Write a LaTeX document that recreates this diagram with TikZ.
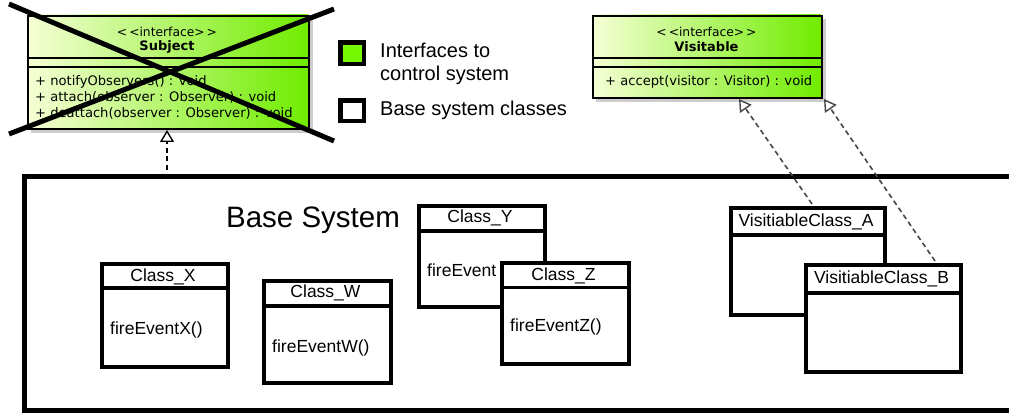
\documentclass[tikz,border=0pt]{standalone}
\usepackage{fontspec}
\setmainfont{Liberation Sans}
\newfontfamily\umlfont{DejaVu Sans}
\usetikzlibrary{arrows.meta}
\definecolor{paleg}{RGB}{246,255,214}
\definecolor{midg}{RGB}{178,252,80}
\definecolor{brightg}{RGB}{112,236,0}
\definecolor{legendg}{RGB}{118,248,0}
\definecolor{shadowg}{RGB}{205,205,205}
\definecolor{linkg}{RGB}{70,70,70}
\tikzset{
  classbox/.style={draw=black, line width=3.6pt, fill=white},
  classsep/.style={draw=black, line width=3.2pt},
  umlframe/.style={draw=black, line width=1.8pt},
  umlsep/.style={draw=black, line width=1.4pt},
  cname/.style={font=\fontsize{17.5}{20}\selectfont, inner sep=0pt},
  cmeth/.style={font=\fontsize{17.5}{20}\selectfont, inner sep=0pt, anchor=west},
  stereo/.style={font=\umlfont\fontsize{12.3}{14}\selectfont, inner sep=0pt},
  iname/.style={font=\umlfont\bfseries\fontsize{13}{15}\selectfont, inner sep=0pt},
  imeth/.style={font=\umlfont\fontsize{13.1}{16}\selectfont, inner sep=0pt, anchor=west},
  legtext/.style={font=\fontsize{20}{24}\selectfont, inner sep=0pt, anchor=west},
  realizes/.style={dashed, dash pattern=on 5pt off 3.5pt, line width=1.6pt,
    -{Triangle[open, width=14pt, length=12pt, line width=1.4pt, fill=white]}},
}
\newcommand{\stereotext}{<\kern2pt<interface>\kern2pt>}
\begin{document}
\begin{tikzpicture}[x=1pt, y=-1pt]
\useasboundingbox (0,0) rectangle (1009,414);
\clip (0,0) rectangle (1009,414);

% ---------- base system frame (runs off to the right) ----------
\node[draw=black, line width=4.4pt, minimum width=1020pt, minimum height=234pt,
      anchor=north west, inner sep=0pt] (base) at (22.2,174.2) {};
\node[font=\fontsize{29.5}{34}\selectfont, inner sep=0pt] (basetitle) at (313,220) {Base System};

% ---------- interface Subject (crossed out) ----------
\fill[shadowg] (31,19) rectangle (313,133);
\shade[left color=paleg, middle color=midg, right color=brightg] (27,15) rectangle (308,128);
\node[umlframe, minimum width=281pt, minimum height=113pt, anchor=north west,
      inner sep=0pt] (subject) at (27,15) {};
\draw[umlsep] (27,58) -- (308,58);
\draw[umlsep] (27,67) -- (308,67);
\node[stereo] (subjst) at (167,32) {\stereotext};
\node[iname] (subjname) at (167,46.5) {Subject};
\node[imeth] (subjm1) at (35,82) {+ notifyObservers() : void};
\node[imeth] (subjm2) at (35,97.5) {+ attach(observer : Observer) : void};
\node[imeth] (subjm3) at (35,113) {+ deattach(observer : Observer) : void};
\coordinate (crossA1) at (9,4);
\coordinate (crossA2) at (334,141);
\coordinate (crossB1) at (9,134);
\coordinate (crossB2) at (334,9);
\draw[line width=5pt] (crossA1) -- (crossA2);
\draw[line width=5pt] (crossB1) -- (crossB2);

% ---------- interface Visitable ----------
\fill[shadowg] (596,19) rectangle (826,102);
\shade[left color=paleg, middle color=midg, right color=brightg] (592,15) rectangle (821,97);
\node[umlframe, minimum width=229pt, minimum height=82pt, anchor=north west,
      inner sep=0pt] (visitable) at (592,15) {};
\draw[umlsep] (592,58) -- (821,58);
\draw[umlsep] (592,67) -- (821,67);
\node[stereo] (visst) at (706.5,32) {\stereotext};
\node[iname] (visname) at (706.5,47) {Visitable};
\node[imeth] (vism1) at (605,81.5) {+ accept(visitor : Visitor) : void};

% ---------- legend ----------
\node[draw=black, line width=4.6pt, fill=legendg, minimum width=23.5pt,
      minimum height=21.5pt, anchor=north west, inner sep=0pt] (legiface) at (338.3,40.3) {};
\node[draw=black, line width=4.6pt, fill=white, minimum width=23.5pt,
      minimum height=20.5pt, anchor=north west, inner sep=0pt] (legbase) at (338.3,98.3) {};
\node[legtext] (legt1) at (380,50) {Interfaces to};
\node[legtext] (legt2) at (380,75) {control system};
\node[legtext] (legt3) at (380,110) {Base system classes};

% ---------- classes of the base system ----------
% Class_X
\node[classbox, minimum width=126pt, minimum height=103pt, anchor=north west,
      inner sep=0pt] (cx) at (100,262) {};
\draw[classsep] (100,288) -- (226,288);
\node[cname] (cxname) at (163,276.5) {Class\_X};
\node[cmeth] (cxm) at (110,330) {fireEventX()};

% Class_W
\node[classbox, minimum width=127pt, minimum height=102pt, anchor=north west,
      inner sep=0pt] (cw) at (262,279) {};
\draw[classsep] (262,306) -- (389,306);
\node[cname] (cwname) at (325.5,293) {Class\_W};
\node[cmeth] (cwm) at (272,348) {fireEventW()};

% Class_Y (partly hidden behind Class_Z)
\node[classbox, minimum width=126pt, minimum height=101pt, anchor=north west,
      inner sep=0pt] (cy) at (417,204) {};
\draw[classsep] (417,231) -- (543,231);
\node[cname] (cyname) at (480,218) {Class\_Y};
\node[cmeth] (cym) at (427,270) {fireEvent};

% Class_Z
\node[classbox, minimum width=127pt, minimum height=101pt, anchor=north west,
      inner sep=0pt] (cz) at (500,261) {};
\draw[classsep] (500,287.5) -- (627,287.5);
\node[cname] (czname) at (563.5,276) {Class\_Z};
\node[cmeth] (czm) at (510,327) {fireEventZ()};

% VisitiableClass_A (partly hidden behind VisitiableClass_B)
\node[classbox, minimum width=154pt, minimum height=107pt, anchor=north west,
      inner sep=0pt] (va) at (729,206) {};
\draw[classsep] (729,235) -- (883,235);
\node[cname] (vaname) at (806,222) {VisitiableClass\_A};

% VisitiableClass_B
\node[classbox, minimum width=155pt, minimum height=107pt, anchor=north west,
      inner sep=0pt] (vb) at (804,263) {};
\draw[classsep] (804,293) -- (959,293);
\node[cname] (vbname) at (881.5,278.5) {VisitiableClass\_B};

% ---------- realization links ----------
\coordinate (baseup) at (167,170);
\coordinate (subjtip) at (167,130);
\draw[realizes, draw=black] (baseup) -- (subjtip);

\coordinate (vaup) at (812,204);
\coordinate (vatip) at (739,99);
\coordinate (vbup) at (935,261);
\coordinate (vbtip) at (824,99);
\draw[realizes, draw=linkg] (vaup) -- (vatip);
\draw[realizes, draw=linkg] (vbup) -- (vbtip);
\end{tikzpicture}
\end{document}
